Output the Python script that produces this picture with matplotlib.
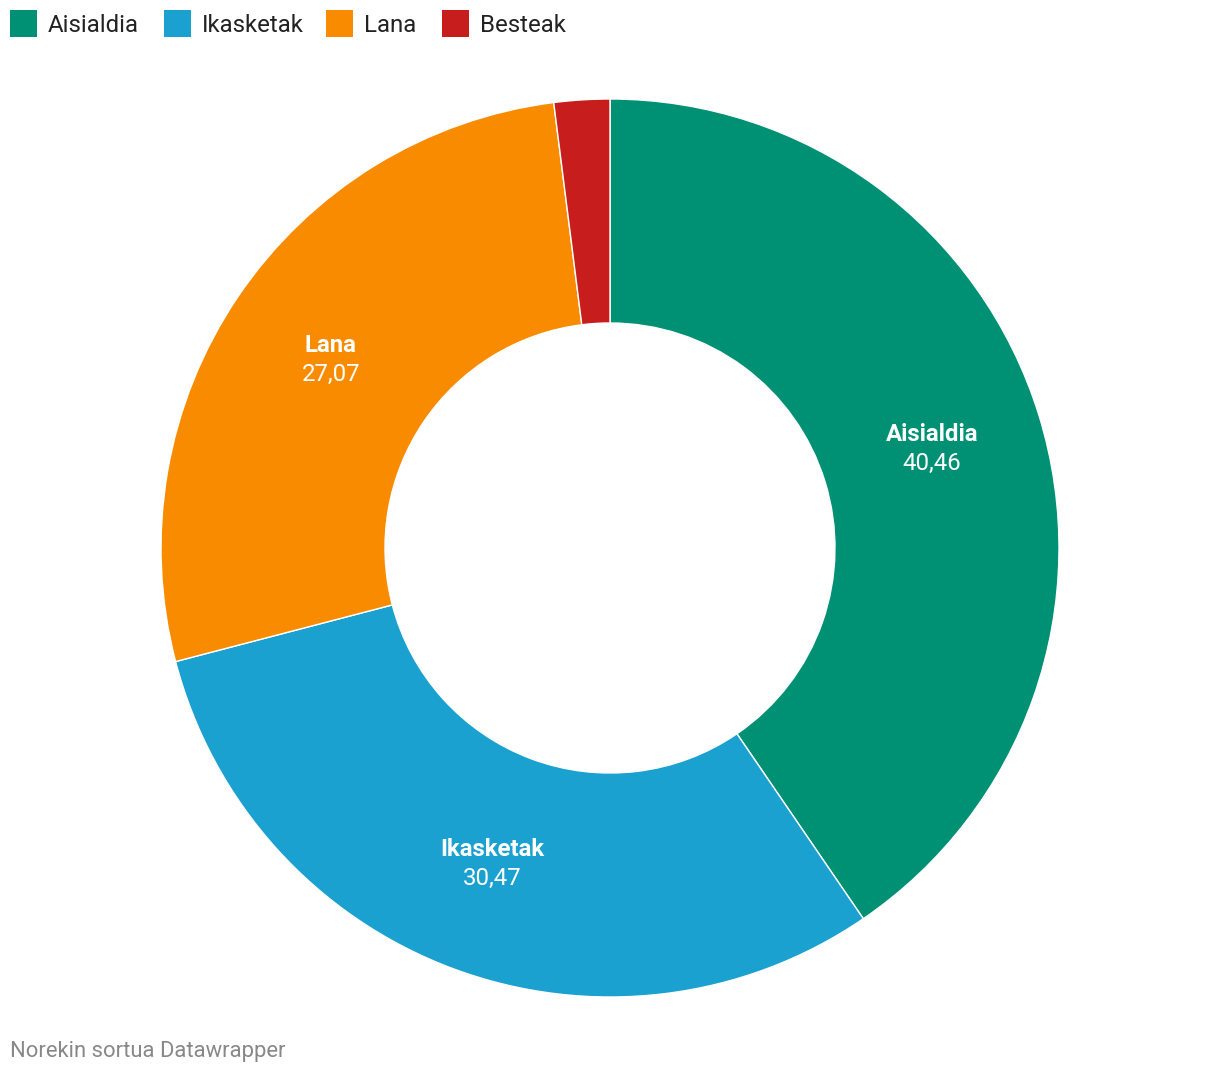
import matplotlib
matplotlib.use("Agg")
from matplotlib import pyplot as plt
from matplotlib.patches import Rectangle
import numpy as np

labels = ["Aisialdia", "Ikasketak", "Lana", "Besteak"]
values = [40.46, 30.47, 27.07, 2.00]
value_text = ["40,46", "30,47", "27,07", ""]
colors = ["#009174", "#1aa1cf", "#f98b00", "#c71e1d"]

plt.rcParams['font.family'] = ['Roboto', 'DejaVu Sans']

W, H = 1220, 1074
fig = plt.figure(figsize=(W / 100, H / 100), dpi=100)
ax = fig.add_axes([0, 0, 1, 1])

cx, cy = 610, H - 548
R, r_in = 449, 225

ax.pie(values, colors=colors, startangle=90, counterclock=False,
       center=(cx, cy), radius=R, frame=True,
       wedgeprops=dict(width=R - r_in, edgecolor='white', linewidth=1))
ax.set_xlim(0, W)
ax.set_ylim(0, H)
ax.set_aspect('equal')
ax.axis('off')

# labels inside ring
total = sum(values)
start = 90.0
r_lab = (R + r_in) / 2
for name, v, vt in zip(labels, values, value_text):
    span = v / total * 360
    mid = np.deg2rad(start - span / 2)
    start -= span
    if not vt:
        continue
    x = cx + r_lab * np.cos(mid)
    y = cy + r_lab * np.sin(mid)
    ax.text(x, y + 14, name, ha='center', va='center', color='white',
            fontsize=17.3, fontweight='bold')
    ax.text(x, y - 15, vt, ha='center', va='center', color='white', fontsize=17.3)

# legend
leg_x = [10, 164, 326, 442]
for lx, name, c in zip(leg_x, labels, colors):
    ax.add_patch(Rectangle((lx, H - 37), 27, 27, color=c, lw=0))
    ax.text(lx + 38, H - 25, name, ha='left', va='center', fontsize=17.3,
            color='#222222')

ax.text(10, H - 1051, "Norekin sortua Datawrapper", ha='left', va='center',
        fontsize=15.8, color='#888888')

fig.savefig("out.png", dpi=100)
